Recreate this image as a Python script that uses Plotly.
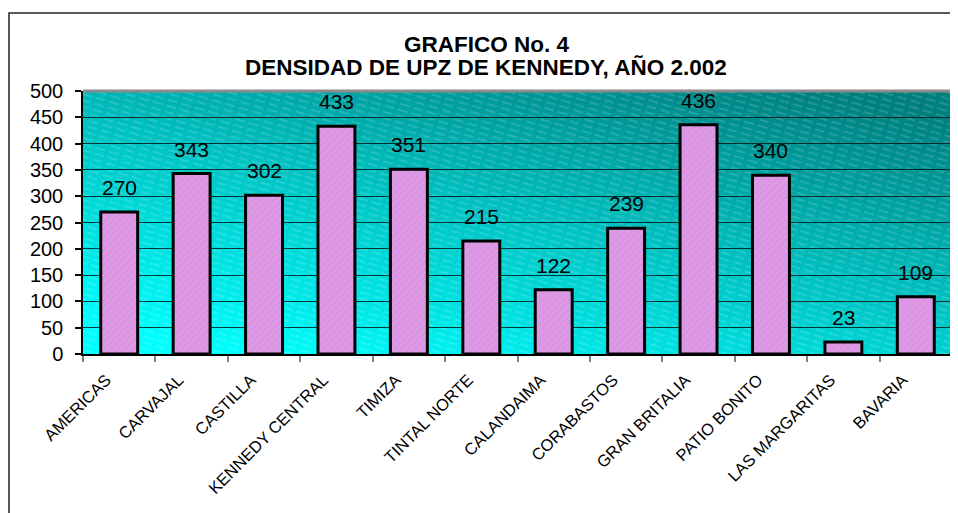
import base64
import plotly.graph_objects as go

FONT = "Liberation Sans, Arial, sans-serif"

upz = ["AMERICAS", "CARVAJAL", "CASTILLA", "KENNEDY CENTRAL", "TIMIZA", "TINTAL NORTE",
       "CALANDAIMA", "CORABASTOS", "GRAN BRITALIA", "PATIO BONITO", "LAS MARGARITAS", "BAVARIA"]
densidad = [270, 343, 302, 433, 351, 215, 122, 239, 436, 340, 23, 109]

y_ticks = list(range(0, 501, 50))

title_lines = ["GRAFICO No. 4", "DENSIDAD DE UPZ DE KENNEDY, AÑO 2.002"]

# page body has an 8px margin, so the figure is a bit smaller than the window
W, H = 950, 505

# teal-to-cyan wall with faint hatch, drawn as an svg behind the plot area
wall_svg = """<svg xmlns='http://www.w3.org/2000/svg' width='869' height='263' viewBox='0 0 869 263' preserveAspectRatio='none'>
<defs>
<linearGradient id='g' x1='0.15' y1='1' x2='0.85' y2='0'>
<stop offset='0' stop-color='#00ffff'/>
<stop offset='0.5' stop-color='#00c4c4'/>
<stop offset='1' stop-color='#007f7f'/>
</linearGradient>
<pattern id='h' width='14' height='6' patternUnits='userSpaceOnUse' patternTransform='rotate(16)'>
<line x1='0' y1='3' x2='10' y2='3' stroke='white' stroke-opacity='0.28' stroke-width='1'/>
</pattern>
</defs>
<rect width='869' height='263' fill='url(#g)'/>
<rect width='869' height='263' fill='url(#h)'/>
</svg>"""
wall_uri = "data:image/svg+xml;base64," + base64.b64encode(wall_svg.encode()).decode()

fig = go.Figure()

fig.add_trace(go.Bar(
    x=upz, y=densidad, width=0.51,
    marker=dict(
        color="#da96e4",
        line=dict(color="black", width=3),
        pattern=dict(shape="/", size=5, solidity=0.15, fgcolor="#f6b6e6", fgopacity=0.6),
    ),
    showlegend=False,
    hoverinfo="x+y",
))

for name, val in zip(upz, densidad):
    fig.add_annotation(
        x=name, y=val, text=str(val), showarrow=False,
        yanchor="bottom", yshift=11,
        font=dict(family=FONT, size=21, color="black"),
    )

# two title lines, set a little tighter than a <br> would give
for line, y in zip(title_lines, [1.1768, 1.0894]):
    fig.add_annotation(
        x=0.4643, y=y, xref="paper", yref="paper", text=f"<b>{line}</b>",
        showarrow=False, xanchor="center", yanchor="middle",
        font=dict(family=FONT, size=22.5, color="black"),
    )

fig.add_layout_image(dict(
    source=wall_uri, xref="x domain", yref="y domain",
    x=0, y=1, sizex=1, sizey=1, xanchor="left", yanchor="top",
    sizing="stretch", layer="below",
))

# grey top/right edge of the wall
fig.add_shape(type="line", xref="paper", yref="paper", x0=0, x1=1, y0=1, y1=1,
              line=dict(color="#8c8c8c", width=3))
fig.add_shape(type="line", xref="paper", yref="paper", x0=1, x1=1, y0=0, y1=1,
              line=dict(color="#8c8c8c", width=3))

# outer chart frame
fig.add_shape(type="rect", xref="paper", yref="paper",
              x0=-74 / 869, x1=1.03, y0=-0.75, y1=341 / 263,
              line=dict(color="#222222", width=1.5), layer="above")

fig.update_layout(
    width=W, height=H,
    margin=dict(l=75, r=6, t=83, b=159),
    paper_bgcolor="white",
    plot_bgcolor="rgba(0,0,0,0)",
    font=dict(family=FONT, color="black"),
    bargap=0.49,
)

fig.update_xaxes(
    showline=True, linecolor="black", linewidth=1.5,
    ticks="outside", tickson="boundaries", ticklen=6, tickcolor="#808080", tickwidth=1.5,
    tickangle=-45, tickfont=dict(family=FONT, size=16.5, color="black"),
    ticklabelstandoff=8, ticklabelshift=-13,
    showgrid=False,
)
fig.update_yaxes(
    range=[0, 500], tickvals=y_ticks,
    showline=True, linecolor="black", linewidth=1.5,
    ticks="outside", ticklen=6, tickcolor="black", tickwidth=1.5,
    tickfont=dict(family=FONT, size=20, color="black"),
    ticklabelstandoff=8,
    showgrid=True, gridcolor="rgba(0,25,25,0.85)", gridwidth=1,
    zeroline=False,
)

fig.write_html("out.html")
